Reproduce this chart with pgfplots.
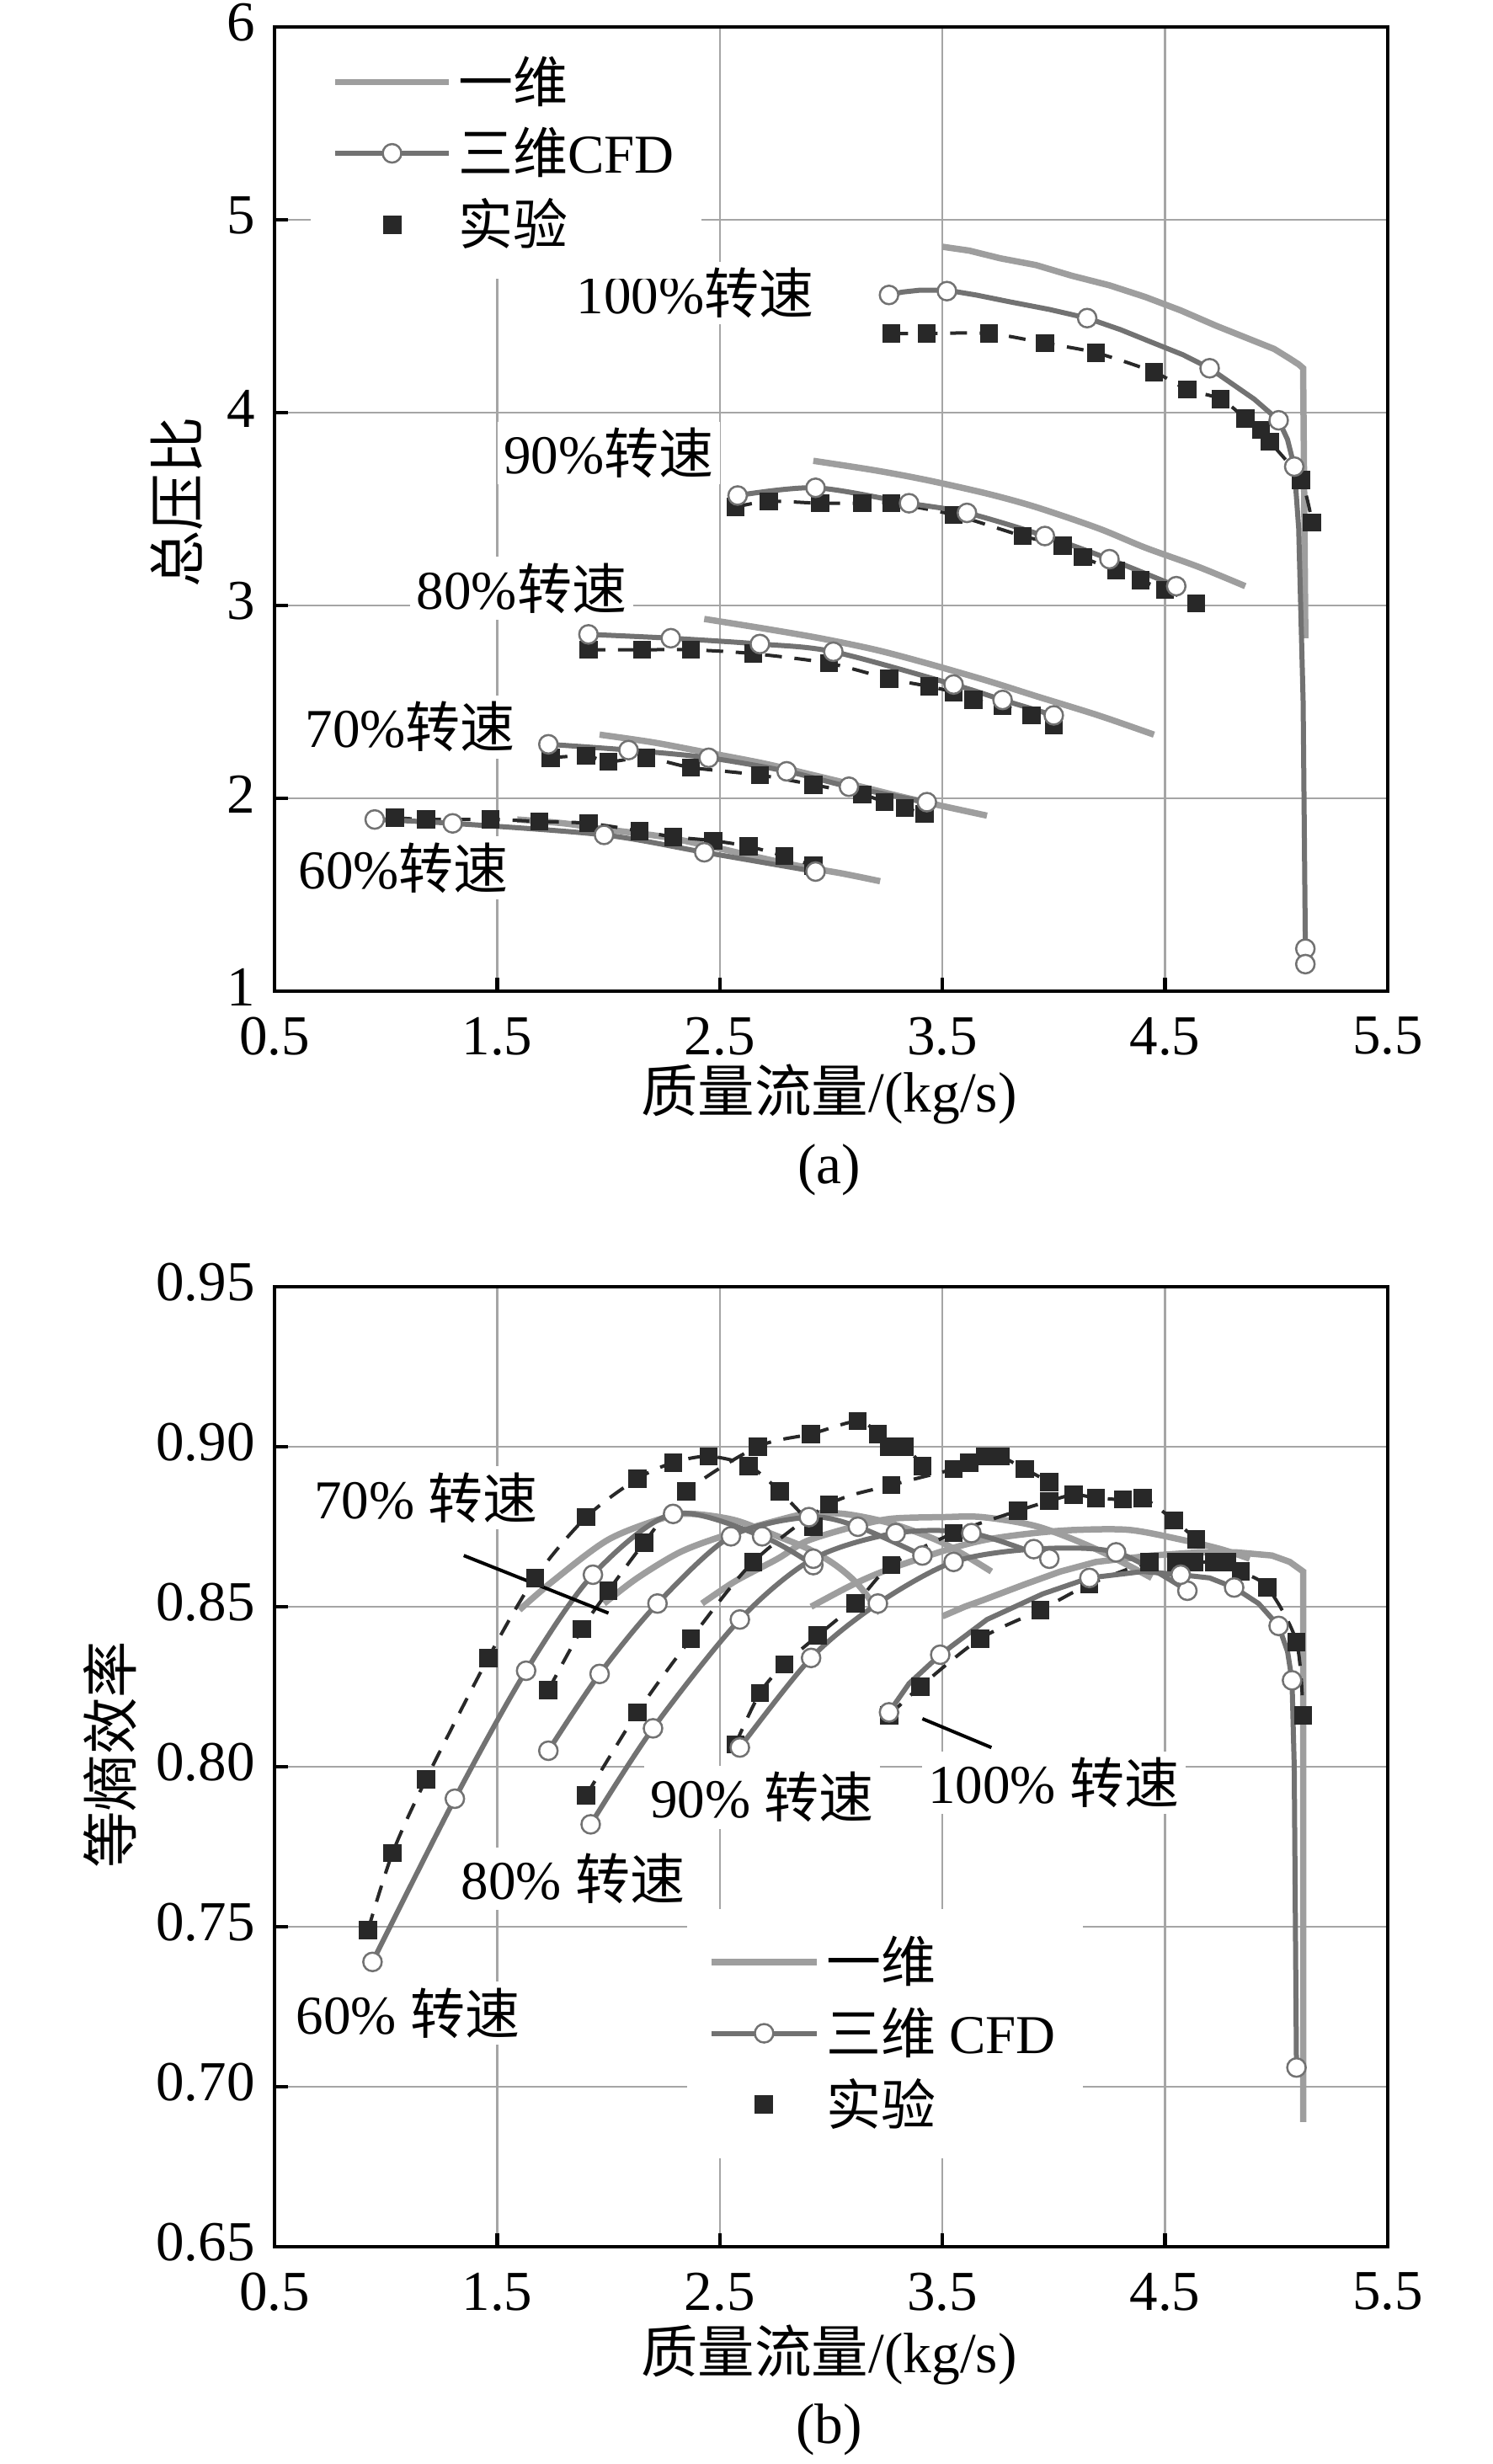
\documentclass[border=0pt]{standalone}
\usepackage{fontspec}
\setmainfont{Liberation Serif}
\newfontfamily\cjk{Noto Sans CJK SC}
\usepackage{pgfplots}
\pgfplotsset{compat=1.18}
\definecolor{oned}{RGB}{158,158,158}
\definecolor{cfd}{RGB}{114,114,114}
\definecolor{expc}{RGB}{40,40,40}
\definecolor{gridc}{RGB}{165,165,165}
\tikzset{lab/.style={fill=white, inner sep=1.5pt, font=\fontsize{13}{15}\selectfont}}
\pgfplotsset{
  oned/.style={draw=oned, line width=1.5pt, no markers, forget plot},
  cfdl/.style={draw=cfd, line width=1.2pt, no markers, forget plot},
  cfdm/.style={only marks, mark=*, mark size=2.2pt, mark options={fill=white, draw=cfd, line width=0.5pt, solid}, forget plot},
  expl/.style={draw=expc, line width=0.8pt, dash pattern=on 4pt off 3pt, no markers, forget plot},
  expm/.style={only marks, mark=square*, mark size=1.95pt, mark options={fill=expc, draw=expc, solid}, forget plot},
  base/.style={scale only axis, width=264.4pt, anchor=south west, xmin=0.5, xmax=5.5,
    xtick={0.5,1.5,2.5,3.5,4.5,5.5},
    grid=major, major grid style={draw=gridc, line width=0.5pt},
    tick align=inside, xtick pos=left, ytick pos=left, major tick length=3.2pt,
    axis line style={line width=0.85pt}, tick style={black, line width=0.85pt},
    tick label style={font=\fontsize{13.4}{16}\selectfont, inner sep=1pt},
    /pgf/number format/assume math mode=true,
    x tick label style={yshift=-5pt, /pgf/number format/.cd, fixed, fixed zerofill, precision=1, /tikz/.cd},
    y tick label style={xshift=-3.5pt, yshift=1pt},
    legend cell align=left,
    legend image code/.code={\draw[mark repeat=2, mark phase=2, ##1] plot coordinates {(0pt,0pt) (13.5pt,0pt) (27pt,0pt)};},
    legend style={draw=none, fill=white, inner sep=5pt, row sep=1.5pt, anchor=north west,
      font=\fontsize{13}{15}\selectfont, nodes={inner sep=1.5pt}},
  },
}
\begin{document}
\begin{tikzpicture}
\useasboundingbox (0,0) rectangle (354.4pt,585.2pt);
% ---------------- (a) ----------------
\begin{axis}[base, at={(65.2pt,349.8pt)}, height=229pt, ymin=1, ymax=6, ytick={1,2,3,4,5,6},
  legend style={at={(0.032,0.999)}}]
\addlegendimage{draw=oned, line width=1.5pt}
\addlegendentry{{\cjk 一维}}
\addlegendimage{draw=cfd, line width=1.2pt, mark=*, mark size=2.2pt, mark options={fill=white,draw=cfd,line width=0.5pt}}
\addlegendentry{{\cjk 三维}CFD}
\addlegendimage{/tikz/only marks, mark=square*, mark size=2pt, mark options={fill=expc,draw=expc}}
\addlegendentry{{\cjk 实验}}
% 1D
\addplot[oned] coordinates {(3.50,4.86)(3.62,4.84)(3.76,4.80)(3.92,4.765)(4.08,4.71)(4.25,4.66)(4.41,4.60)(4.57,4.53)(4.73,4.45)(4.86,4.39)(4.99,4.33)(5.06,4.28)(5.10,4.25)(5.12,4.23)(5.13,2.83)};
\addplot[oned, smooth] coordinates {(2.92,3.75)(3.20,3.70)(3.43,3.65)(3.70,3.58)(3.92,3.51)(4.20,3.40)(4.41,3.30)(4.65,3.20)(4.86,3.10)};
\addplot[oned, smooth] coordinates {(2.43,2.93)(2.70,2.88)(2.95,2.83)(3.20,2.77)(3.43,2.70)(3.70,2.61)(3.92,2.53)(4.20,2.43)(4.45,2.33)};
\addplot[oned, smooth] coordinates {(1.96,2.33)(2.20,2.29)(2.43,2.24)(2.70,2.18)(2.92,2.12)(3.10,2.07)(3.31,2.01)(3.50,1.96)(3.70,1.91)};
\addplot[oned, smooth] coordinates {(1.59,1.89)(1.80,1.87)(1.98,1.84)(2.25,1.80)(2.46,1.75)(2.65,1.70)(2.85,1.65)(3.05,1.61)(3.22,1.57)};
% experiment
\addplot[expl, smooth] coordinates {(3.27,4.41)(3.43,4.41)(3.71,4.41)(3.96,4.36)(4.19,4.31)(4.45,4.21)(4.60,4.12)(4.75,4.07)(4.86,3.97)(4.93,3.91)(4.97,3.85)(5.11,3.65)(5.16,3.43)};
\addplot[expm] coordinates {(3.27,4.41)(3.43,4.41)(3.71,4.41)(3.96,4.36)(4.19,4.31)(4.45,4.21)(4.60,4.12)(4.75,4.07)(4.86,3.97)(4.93,3.91)(4.97,3.85)(5.11,3.65)(5.16,3.43)};
\addplot[expl, smooth] coordinates {(2.57,3.51)(2.72,3.54)(2.95,3.53)(3.14,3.53)(3.27,3.53)(3.55,3.47)(3.86,3.36)(4.04,3.31)(4.13,3.25)(4.28,3.18)(4.39,3.13)(4.50,3.08)(4.64,3.01)};
\addplot[expm] coordinates {(2.57,3.51)(2.72,3.54)(2.95,3.53)(3.14,3.53)(3.27,3.53)(3.55,3.47)(3.86,3.36)(4.04,3.31)(4.13,3.25)(4.28,3.18)(4.39,3.13)(4.50,3.08)(4.64,3.01)};
\addplot[expl, smooth] coordinates {(1.91,2.77)(2.15,2.77)(2.37,2.77)(2.65,2.75)(2.99,2.70)(3.26,2.62)(3.44,2.58)(3.55,2.55)(3.64,2.51)(3.77,2.48)(3.90,2.43)(4.00,2.38)};
\addplot[expm] coordinates {(1.91,2.77)(2.15,2.77)(2.37,2.77)(2.65,2.75)(2.99,2.70)(3.26,2.62)(3.44,2.58)(3.55,2.55)(3.64,2.51)(3.77,2.48)(3.90,2.43)(4.00,2.38)};
\addplot[expl, smooth] coordinates {(1.74,2.21)(1.90,2.22)(2.00,2.19)(2.17,2.21)(2.37,2.16)(2.68,2.12)(2.92,2.07)(3.14,2.02)(3.24,1.98)(3.33,1.95)(3.42,1.92)};
\addplot[expm] coordinates {(1.74,2.21)(1.90,2.22)(2.00,2.19)(2.17,2.21)(2.37,2.16)(2.68,2.12)(2.92,2.07)(3.14,2.02)(3.24,1.98)(3.33,1.95)(3.42,1.92)};
\addplot[expl, smooth] coordinates {(1.04,1.90)(1.18,1.89)(1.47,1.89)(1.69,1.88)(1.91,1.87)(2.14,1.83)(2.29,1.80)(2.47,1.78)(2.63,1.75)(2.79,1.70)(2.92,1.65)};
\addplot[expm] coordinates {(1.04,1.90)(1.18,1.89)(1.47,1.89)(1.69,1.88)(1.91,1.87)(2.14,1.83)(2.29,1.80)(2.47,1.78)(2.63,1.75)(2.79,1.70)(2.92,1.65)};
% CFD
\addplot[cfdl] coordinates {(3.26,4.61)(3.32,4.625)(3.40,4.635)(3.52,4.635)(3.65,4.61)(3.80,4.575)(3.98,4.535)(4.15,4.49)(4.30,4.43)(4.45,4.36)(4.58,4.30)(4.70,4.23)(4.80,4.15)(4.90,4.07)(4.96,4.01)(5.01,3.96)(5.05,3.86)(5.08,3.72)(5.10,3.40)(5.12,2.50)(5.13,1.22)(5.13,1.14)};
\addplot[cfdm] coordinates {(3.26,4.61)(3.52,4.63)(4.15,4.49)(4.70,4.23)(5.01,3.96)(5.08,3.72)(5.13,1.22)(5.13,1.14)};
\addplot[cfdl, smooth] coordinates {(2.58,3.57)(2.93,3.61)(3.35,3.53)(3.61,3.48)(3.96,3.36)(4.25,3.24)(4.55,3.10)};
\addplot[cfdm] coordinates {(2.58,3.57)(2.93,3.61)(3.35,3.53)(3.61,3.48)(3.96,3.36)(4.25,3.24)(4.55,3.10)};
\addplot[cfdl, smooth] coordinates {(1.91,2.85)(2.28,2.83)(2.68,2.80)(3.01,2.76)(3.55,2.59)(3.77,2.51)(4.00,2.43)};
\addplot[cfdm] coordinates {(1.91,2.85)(2.28,2.83)(2.68,2.80)(3.01,2.76)(3.55,2.59)(3.77,2.51)(4.00,2.43)};
\addplot[cfdl, smooth] coordinates {(1.73,2.28)(2.09,2.25)(2.45,2.21)(2.80,2.14)(3.08,2.06)(3.43,1.98)};
\addplot[cfdm] coordinates {(1.73,2.28)(2.09,2.25)(2.45,2.21)(2.80,2.14)(3.08,2.06)(3.43,1.98)};
\addplot[cfdl, smooth] coordinates {(0.95,1.89)(1.30,1.87)(1.98,1.81)(2.43,1.72)(2.93,1.62)};
\addplot[cfdm] coordinates {(0.95,1.89)(1.30,1.87)(1.98,1.81)(2.43,1.72)(2.93,1.62)};
% labels
\node[lab] at (axis cs:2.39,4.62) {100\%{\cjk 转速}};
\node[lab] at (axis cs:2.00,3.79) {90\%{\cjk 转速}};
\node[lab] at (axis cs:1.61,3.09) {80\%{\cjk 转速}};
\node[lab] at (axis cs:1.11,2.37) {70\%{\cjk 转速}};
\node[lab] at (axis cs:1.08,1.64) {60\%{\cjk 转速}};
\end{axis}
\node[font=\fontsize{13.5}{16}\selectfont] at (196.9pt,325.4pt) {{\cjk 质量流量}/(kg/s)};
\node[font=\fontsize{13.5}{16}\selectfont] at (196.9pt,307.4pt) {(a)};
\node[rotate=90, font=\fontsize{13.5}{16}\selectfont] at (42pt,465.9pt) {{\cjk 总压比}};
% ---------------- (b) ----------------
\begin{axis}[base, at={(65.2pt,51.6pt)}, height=228pt, ymin=0.65, ymax=0.95,
  ytick={0.65,0.7,0.75,0.8,0.85,0.9,0.95},
  y tick label style={/pgf/number format/.cd, fixed, fixed zerofill, precision=2, /tikz/.cd},
  legend image code/.code={\draw[mark repeat=2, mark phase=2, #1] plot coordinates {(0pt,0pt) (12.5pt,0pt) (25pt,0pt)};},
  legend style={at={(0.37,0.353)}}]
\addlegendimage{draw=oned, line width=1.5pt}
\addlegendentry{{\cjk 一维}}
\addlegendimage{draw=cfd, line width=1.2pt, mark=*, mark size=2.2pt, mark options={fill=white,draw=cfd,line width=0.5pt}}
\addlegendentry{{\cjk 三维} CFD}
\addlegendimage{/tikz/only marks, mark=square*, mark size=2pt, mark options={fill=expc,draw=expc}}
\addlegendentry{{\cjk 实验}}
% 1D
\addplot[oned, smooth] coordinates {(1.60,0.849)(1.75,0.858)(2.00,0.871)(2.26,0.878)(2.38,0.879)(2.57,0.877)(2.76,0.872)(2.90,0.868)(3.02,0.863)(3.12,0.857)(3.22,0.848)};
\addplot[oned, smooth] coordinates {(1.98,0.851)(2.13,0.859)(2.32,0.867)(2.51,0.872)(2.76,0.877)(2.89,0.879)(3.06,0.879)(3.27,0.876)(3.50,0.870)(3.72,0.861)};
\addplot[oned, smooth] coordinates {(2.42,0.851)(2.57,0.858)(2.76,0.865)(2.89,0.8705)(3.10,0.875)(3.27,0.8775)(3.50,0.878)(3.68,0.878)(3.93,0.875)(4.19,0.868)(4.44,0.859)};
\addplot[oned, smooth] coordinates {(2.91,0.850)(3.10,0.857)(3.27,0.862)(3.53,0.868)(3.70,0.871)(3.91,0.873)(4.10,0.874)(4.34,0.874)(4.57,0.871)(4.75,0.868)(4.88,0.865)};
\addplot[oned] coordinates {(3.50,0.847)(3.60,0.850)(3.68,0.852)(3.87,0.857)(4.03,0.861)(4.19,0.864)(4.44,0.866)(4.65,0.867)(4.82,0.867)(4.98,0.866)(5.06,0.864)(5.12,0.861)(5.12,0.689)};
% experiment
\addplot[expl, smooth] coordinates {(0.92,0.749)(1.03,0.773)(1.18,0.796)(1.46,0.834)(1.67,0.859)(1.90,0.878)(2.13,0.890)(2.29,0.895)(2.45,0.897)(2.63,0.894)(2.77,0.886)(2.92,0.875)};
\addplot[expm] coordinates {(0.92,0.749)(1.03,0.773)(1.18,0.796)(1.46,0.834)(1.67,0.859)(1.90,0.878)(2.13,0.890)(2.29,0.895)(2.45,0.897)(2.63,0.894)(2.77,0.886)(2.92,0.875)};
\addplot[expl, smooth] coordinates {(1.73,0.824)(1.88,0.843)(2.00,0.855)(2.16,0.870)(2.35,0.886)(2.67,0.900)(2.91,0.904)(3.12,0.908)(3.21,0.904)(3.26,0.900)(3.33,0.900)(3.41,0.894)};
\addplot[expm] coordinates {(1.73,0.824)(1.88,0.843)(2.00,0.855)(2.16,0.870)(2.35,0.886)(2.67,0.900)(2.91,0.904)(3.12,0.908)(3.21,0.904)(3.26,0.900)(3.33,0.900)(3.41,0.894)};
\addplot[expl, smooth] coordinates {(1.90,0.791)(2.13,0.817)(2.37,0.840)(2.65,0.864)(2.99,0.882)(3.27,0.888)(3.55,0.893)(3.62,0.895)(3.69,0.897)(3.76,0.897)(3.87,0.893)(3.98,0.889)};
\addplot[expm] coordinates {(1.90,0.791)(2.13,0.817)(2.37,0.840)(2.65,0.864)(2.99,0.882)(3.27,0.888)(3.55,0.893)(3.62,0.895)(3.69,0.897)(3.76,0.897)(3.87,0.893)(3.98,0.889)};
\addplot[expl, smooth] coordinates {(2.57,0.807)(2.68,0.823)(2.79,0.832)(2.94,0.841)(3.11,0.851)(3.27,0.863)(3.55,0.873)(3.84,0.880)(3.98,0.883)(4.09,0.885)(4.19,0.884)(4.31,0.8835)(4.40,0.884)(4.54,0.877)(4.64,0.871)};
\addplot[expm] coordinates {(2.57,0.807)(2.68,0.823)(2.79,0.832)(2.94,0.841)(3.11,0.851)(3.27,0.863)(3.55,0.873)(3.84,0.880)(3.98,0.883)(4.09,0.885)(4.19,0.884)(4.31,0.8835)(4.40,0.884)(4.54,0.877)(4.64,0.871)};
\addplot[expl, smooth] coordinates {(3.26,0.816)(3.40,0.825)(3.67,0.840)(3.94,0.849)(4.16,0.857)(4.43,0.864)(4.55,0.864)(4.63,0.864)(4.72,0.864)(4.78,0.864)(4.84,0.861)(4.96,0.856)(5.09,0.839)(5.12,0.816)};
\addplot[expm] coordinates {(3.26,0.816)(3.40,0.825)(3.67,0.840)(3.94,0.849)(4.16,0.857)(4.43,0.864)(4.55,0.864)(4.63,0.864)(4.72,0.864)(4.78,0.864)(4.84,0.861)(4.96,0.856)(5.09,0.839)(5.12,0.816)};
% CFD
\addplot[cfdl, smooth] coordinates {(0.94,0.739)(1.31,0.790)(1.63,0.830)(1.93,0.860)(2.29,0.879)(2.69,0.872)(2.92,0.863)};
\addplot[cfdm] coordinates {(0.94,0.739)(1.31,0.790)(1.63,0.830)(1.93,0.860)(2.29,0.879)(2.69,0.872)(2.92,0.863)};
\addplot[cfdl, smooth] coordinates {(1.73,0.805)(1.96,0.829)(2.22,0.851)(2.55,0.872)(2.90,0.878)(3.12,0.875)(3.41,0.866)};
\addplot[cfdm] coordinates {(1.73,0.805)(1.96,0.829)(2.22,0.851)(2.55,0.872)(2.90,0.878)(3.12,0.875)(3.41,0.866)};
\addplot[cfdl, smooth] coordinates {(1.92,0.782)(2.20,0.812)(2.59,0.846)(2.92,0.865)(3.29,0.873)(3.63,0.873)(3.98,0.865)};
\addplot[cfdm] coordinates {(1.92,0.782)(2.20,0.812)(2.59,0.846)(2.92,0.865)(3.29,0.873)(3.63,0.873)(3.98,0.865)};
\addplot[cfdl, smooth] coordinates {(2.59,0.806)(2.91,0.834)(3.21,0.851)(3.55,0.864)(3.91,0.868)(4.28,0.867)(4.60,0.855)};
\addplot[cfdm] coordinates {(2.59,0.806)(2.91,0.834)(3.21,0.851)(3.55,0.864)(3.91,0.868)(4.28,0.867)(4.60,0.855)};
\addplot[cfdl] coordinates {(3.26,0.817)(3.35,0.826)(3.49,0.835)(3.70,0.846)(3.95,0.854)(4.16,0.859)(4.40,0.861)(4.57,0.860)(4.70,0.859)(4.81,0.856)(4.92,0.851)(5.01,0.844)(5.05,0.836)(5.07,0.827)(5.08,0.800)(5.09,0.706)};
\addplot[cfdm] coordinates {(3.26,0.817)(3.49,0.835)(4.16,0.859)(4.57,0.860)(4.81,0.856)(5.01,0.844)(5.07,0.827)(5.09,0.706)};
% labels
\draw[black, line width=0.8pt] (axis cs:1.35,0.866) -- (axis cs:2.00,0.848);
\draw[black, line width=0.8pt] (axis cs:3.41,0.815) -- (axis cs:3.72,0.806);
\node[lab] at (axis cs:1.18,0.884) {70\% {\cjk 转速}};
\node[lab] at (axis cs:2.69,0.7905) {90\% {\cjk 转速}};
\node[lab] at (axis cs:4.00,0.795) {100\% {\cjk 转速}};
\node[lab] at (axis cs:1.84,0.765) {80\% {\cjk 转速}};
\node[lab] at (axis cs:1.10,0.723) {60\% {\cjk 转速}};
\end{axis}
\node[font=\fontsize{13.5}{16}\selectfont] at (196.9pt,26pt) {{\cjk 质量流量}/(kg/s)};
\node[font=\fontsize{13.5}{16}\selectfont] at (196.9pt,8.2pt) {(b)};
\node[rotate=90, font=\fontsize{13.5}{16}\selectfont] at (26.2pt,168.4pt) {{\cjk 等熵效率}};
\end{tikzpicture}
\end{document}
